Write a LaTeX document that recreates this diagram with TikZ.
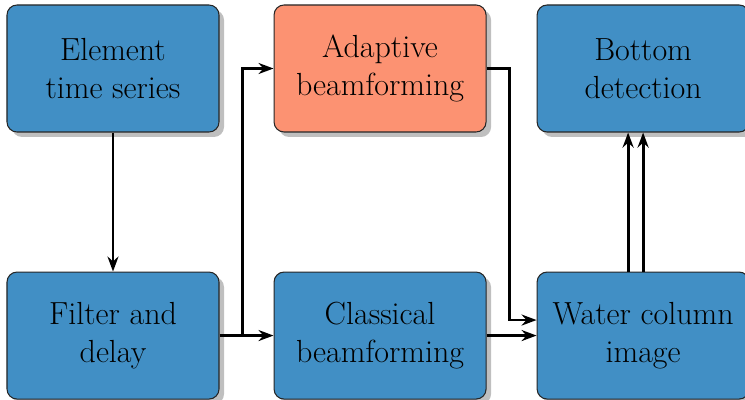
\documentclass[tikz,border=0pt]{standalone}
\usetikzlibrary{positioning,arrows.meta,shadows,calc}
\definecolor{boxblue}{RGB}{65,143,197}
\definecolor{boxsalmon}{RGB}{252,146,114}
\begin{document}
\begin{tikzpicture}[node distance=2.78cm and 1.08cm,
    block/.style={draw=black!85, line width=0.6pt, rounded corners=0.2cm, fill=boxblue,
      minimum width=4.24cm, minimum height=2.54cm, align=center,
      font=\fontsize{18.2}{21.6}\selectfont,
      drop shadow={shadow xshift=0.1cm, shadow yshift=-0.1cm, fill=black!25, opacity=1}},
    link/.style={-{Stealth[length=0.3cm,width=0.22cm]}, line width=1.6pt}]
            \useasboundingbox (0,0) rectangle (14.9,-8);
            \node (elem) [block] at (2.26,-1.37) {Element\\time series};
            \node (adapt) [block, fill=boxsalmon, right=of elem] {Adaptive\\beamforming};
            \node (bottom) [block, right=1.0cm of adapt] {Bottom\\detection};
            \node (filter) [block, below=of elem] {Filter and\\delay};
            \node (classic) [block, below=of adapt] {Classical\\beamforming};
            \node (water) [block, below=of bottom] {Water column\\image};

            \coordinate (split) at ($(filter.east)!0.43!(classic.west)$);

            \draw[link] (elem) -- (filter);
            \draw[link] (filter) -- (classic);
            \draw[link] (split) |- (adapt);
            \draw[link] (adapt.east) -- ++(0.46,0) |- ([yshift=0.31cm]water.west);
            \draw[link] (classic) -- (water);
            \draw[link] ([xshift=-0.3cm]water.north) -- ([xshift=-0.3cm]bottom.south);
            \draw[link] (water) -- (bottom);
        \end{tikzpicture}
\end{document}
